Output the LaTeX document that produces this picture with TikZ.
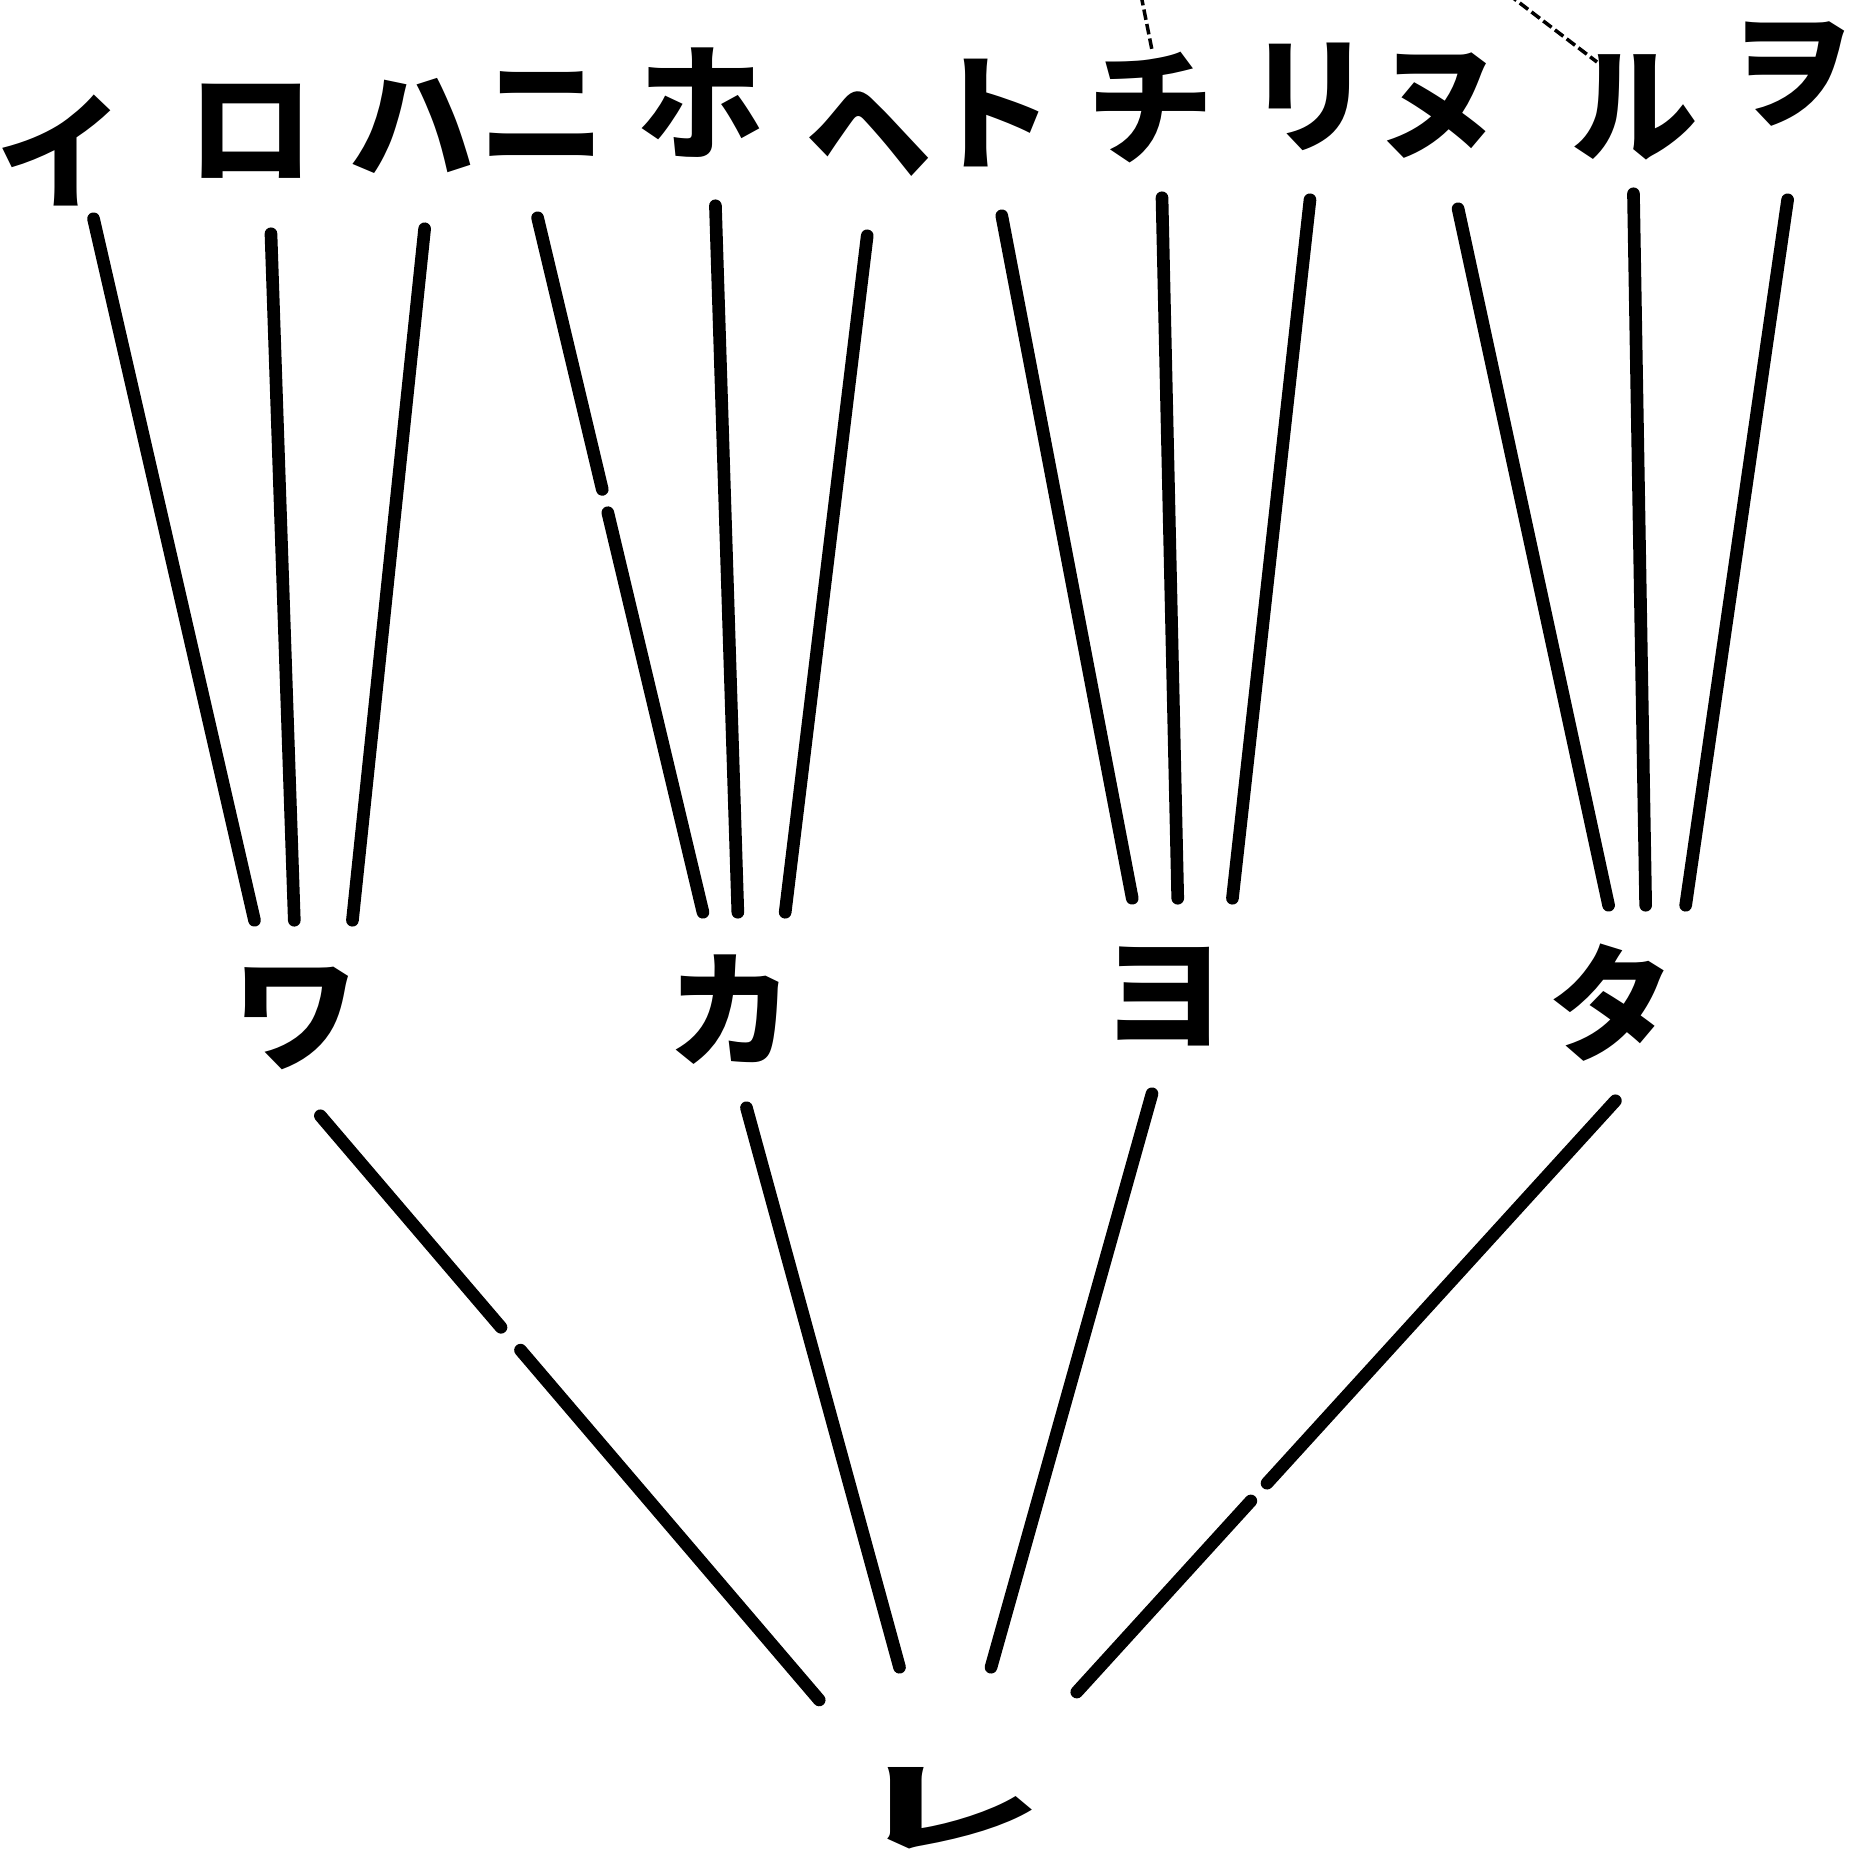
\documentclass[tikz,border=0pt]{standalone}
\usepackage{fontspec}
\newfontfamily\jpfont{Noto Sans CJK JP}

\begin{document}
\begin{tikzpicture}[
    x=0.01cm, y=-0.01cm,
    every node/.style={font=\jpfont\bfseries\fontsize{36}{36}\selectfont, inner sep=0pt},
    topchar/.style={minimum width=1.3cm, minimum height=2.04cm},
    midchar/.style={minimum width=1.9cm, minimum height=1.94cm},
    rootchar/.style={minimum width=2.56cm, minimum height=2.8cm},
    branch/.style={line width=3.6pt, line cap=round},
    stray/.style={line width=1pt, dash pattern=on 3pt off 1.2pt},
  ]
  \path[use as bounding box, fill=white] (0,0) rectangle (1860,1865);

  % top row
  \node[topchar, minimum height=1.36cm] (i) at (60,150) {イ};
  \node[topchar] (ro) at (251,131) {ロ};
  \node[topchar] (ha) at (412,126) {ハ};
  \node[topchar] (ni) at (543,115) {ニ};
  \node[topchar] (ho) at (701,103) {ホ};
  \node[topchar] (he) at (869,133) {ヘ};
  \node[topchar] (to) at (991,113) {ト};
  \node[topchar, minimum height=1.78cm] (chi) at (1151,108) {チ};
  \node[topchar] (ri) at (1310,97) {リ};
  \node[topchar] (nu) at (1440,106) {ヌ};
  \node[topchar, minimum height=1.72cm] (ru) at (1635,107) {ル};
  \node[topchar, minimum height=2.5cm] (wo) at (1792,74) {ヲ};

  % middle row
  \node[midchar] (wa) at (296,1018) {ワ};
  \node[midchar] (ka) at (731,1010) {カ};
  \node[midchar] (yo) at (1164,996) {ヨ};
  \node[midchar] (ta) at (1612,1003) {タ};

  \node[rootchar] (re) at (948,1808) {\scalebox{1.5}[0.78]{レ}};

  \draw[branch] (i.-64.8) -- (wa.113.9);
  \draw[branch] (ro.-79.4) -- (wa.91.8);
  \draw[branch] (ha.-83.3) -- (wa.60.7);
  \draw[branch, dash pattern=on 2.79cm off 0.24cm on 20cm] (ni.-93.1) -- (ka.106.7);
  \draw[branch] (ho.-82.5) -- (ka.86.6);
  \draw[branch] (he.-91.1) -- (ka.61.1);
  \draw[branch] (to.-84.6) -- (yo.108.6);
  \draw[branch] (chi.-83.6) -- (yo.82.1);
  \draw[branch] (ri.-90) -- (yo.55.2);
  \draw[branch] (nu.-80) -- (ta.92.8);
  \draw[branch] (ru.-91.3) -- (ta.71.2);
  \draw[branch] (wo.-92.7) -- (ta.53.3);

  \draw[branch, dash pattern=on 2.78cm off 0.3cm on 20cm] (wa.-76.1) -- (re.140.2);
  \draw[branch] (ka.-81.1) -- (re.109.4);
  \draw[branch] (yo.-97.8) -- (re.73.1);
  \draw[branch, dash pattern=on 5.17cm off 0.24cm on 20cm] (ta.-88.9) -- (re.42.3);

  % marks running in from above
  \coordinate (strayA) at (1141,-5);
  \coordinate (strayAend) at (1152,50);
  \coordinate (strayB) at (1508,-6);
  \coordinate (strayBend) at (1597,62);
  \draw[stray] (strayA) -- (strayAend);
  \draw[stray] (strayB) -- (strayBend);
\end{tikzpicture}
\end{document}
